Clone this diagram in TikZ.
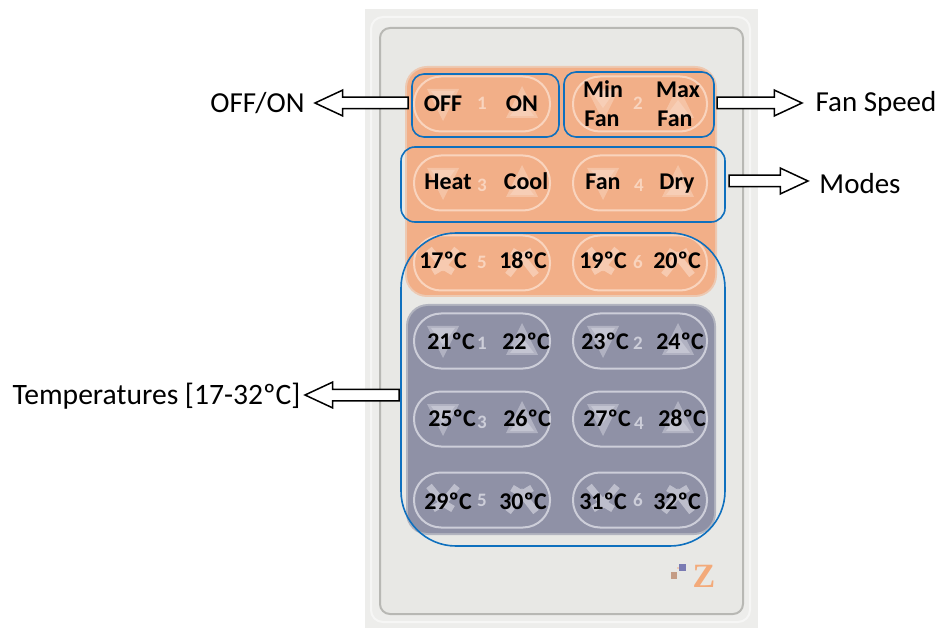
\documentclass[tikz,border=0pt]{standalone}
\usepackage{fontspec}
\setmainfont{Carlito}
\newfontfamily\zfont{Liberation Serif}
\usetikzlibrary{shapes.arrows}
\definecolor{panel}{HTML}{E8E8E5}
\definecolor{panelouter}{HTML}{EDEDEB}
\definecolor{panelline}{HTML}{B8B8B4}
\definecolor{orbg}{HTML}{F2AF88}
\definecolor{orpale}{HTML}{F9D4BE}
\definecolor{grbg}{HTML}{8F91A6}
\definecolor{grpale}{HTML}{CDCED9}
\definecolor{bluebox}{HTML}{0F70BE}
\tikzset{
  px/.style={x=1pt,y=-1pt},
  keytext/.style={font=\fontsize{24}{26}\selectfont\bfseries,text=black,inner sep=0pt,anchor=base},
  calltext/.style={font=\fontsize{29}{31}\selectfont,text=black,inner sep=0pt,anchor=base},
  digit/.style={font=\fontsize{19}{21}\selectfont\bfseries,inner sep=0pt},
  bluerect/.style={draw=bluebox,line width=1.6pt,fill=none,inner sep=0pt},
  pillbox/.style={rounded corners=27pt,line width=2pt},
  blockarrow/.style={single arrow,draw=black,fill=white,line width=1.5pt,inner xsep=0pt,inner ysep=5pt,
    minimum width=21pt,single arrow head indent=0pt,single arrow tip angle=50,outer sep=0pt,anchor=tip},
}
\newcommand{\pillpair}[2]{%
  \draw[pillbox,draw=#2] (414,#1-27.5) rectangle (550,#1+27.5);
  \draw[pillbox,draw=#2] (573,#1-27.5) rectangle (707,#1+27.5);
}
\newcommand{\downtri}[3]{%
  \fill[#3,opacity=.55] (#1-16,#2-15) -- (#1+16,#2-15) -- (#1,#2+17) -- cycle;
  \fill[#3,opacity=.7] (#1-12,#2-13) -- (#1+12,#2-13) -- (#1,#2+4) -- cycle;}
\newcommand{\uptri}[3]{%
  \fill[#3,opacity=.55] (#1-16,#2+14) -- (#1+16,#2+14) -- (#1,#2-18) -- cycle;
  \fill[#3,opacity=.7] (#1-12,#2+12) -- (#1+12,#2+12) -- (#1,#2-4) -- cycle;}
\newcommand{\downchev}[3]{\draw[#3,opacity=.75,line width=7pt]
  (#1-14,#2-14) -- (#1,#2+3) -- (#1+14,#2-14) (#1-10,#2+9) -- (#1,#2+3) -- (#1+10,#2+9);}
\newcommand{\upchev}[3]{\draw[#3,opacity=.75,line width=7pt]
  (#1-14,#2+12) -- (#1,#2-6) -- (#1+14,#2+12) (#1-10,#2-12) -- (#1,#2-6) -- (#1+10,#2-12);}
\begin{document}
\begin{tikzpicture}[px]
\useasboundingbox (0,0) rectangle (940,628);
% panel
\fill[panelouter] (365,9) rectangle (758,628);
\draw[white,line width=2pt,opacity=.5,rounded corners=12pt] (371,17) rectangle (750,622);
\fill[panel,rounded corners=10pt] (380,28) rectangle (743,614);
\draw[panelline,line width=2pt,rounded corners=10pt] (380,28) rectangle (743,614);
% key fields
\fill[orbg!55!panel,rounded corners=22pt] (405,66) rectangle (717,297);
\fill[orbg,rounded corners=20pt] (407,68) rectangle (715,295);
\fill[grbg!60!panel,rounded corners=22pt] (406,304) rectangle (716,535);
\fill[grbg,rounded corners=20pt] (408,306) rectangle (714,533);
% pills
\pillpair{104}{orpale}
\pillpair{183}{orpale}
\pillpair{263}{orpale}
\pillpair{341}{grpale}
\pillpair{419}{grpale}
\pillpair{500}{grpale}
% glyphs
\foreach \y in {104,183}{
  \downtri{443}{\y}{orpale}\uptri{522}{\y}{orpale}
  \downtri{603}{\y}{orpale}\uptri{678}{\y}{orpale}}
\foreach \y in {341,419}{
  \downtri{443}{\y}{grpale}\uptri{522}{\y}{grpale}
  \downtri{603}{\y}{grpale}\uptri{678}{\y}{grpale}}
\downchev{443}{263}{orpale}\upchev{522}{263}{orpale}
\downchev{603}{263}{orpale}\upchev{678}{263}{orpale}
\downchev{443}{500}{grpale}\upchev{522}{500}{grpale}
\downchev{603}{500}{grpale}\upchev{678}{500}{grpale}
% digits
\foreach \n/\t/\x/\y in {a/1/482/103,b/2/638/103,c/3/482/185,d/4/639/185,e/5/482/262,f/6/638/262}
  \node[digit,text=orpale] (o\n) at (\x,\y) {\t};
\foreach \n/\t/\x/\y in {a/1/482/343,b/2/638/343,c/3/482/422,d/4/639/423,e/5/482/500,f/6/638/500}
  \node[digit,text=grpale] (g\n) at (\x,\y) {\t};
% logo
\fill[grbg!85!blue] (679,564) rectangle (686,571);
\fill[orbg!60!gray] (671,572) rectangle (677,579);
\fill[orbg!50!panel] (677,567) rectangle (679,569);
\node[inner sep=0pt,text=orbg!90!orange] (logoz) at (704,576) {\zfont\fontsize{34}{36}\selectfont\bfseries Z};
% key labels
\foreach \n/\x/\y/\t in {
  k1/443/112/OFF,k2/522/112/ON,k3/603/98/Min,k4/678/98/Max,k5/602/127/Fan,k6/675/127/Fan,
  k7/448/190/Heat,k8/526/190/Cool,k9/603/190/Fan,k10/677/190/Dry,
  t17/443/269/17ºC,t18/523/269/18ºC,t19/603/269/19ºC,t20/677/269/20ºC,
  t21/451/349/21ºC,t22/526/349/22ºC,t23/605/349/23ºC,t24/680/349/24ºC,
  t25/452/426/25ºC,t26/527/426/26ºC,t27/607/426/27ºC,t28/682/426/28ºC,
  t29/448/509/29ºC,t30/523/509/30ºC,t31/603/509/31ºC,t32/677/509/32ºC}
  \node[keytext] (\n) at (\x,\y) {\t};
% blue outlines
\node[bluerect,rounded corners=12pt,minimum width=147pt,minimum height=63pt] (boxonoff) at (485.5,105.5) {};
\node[bluerect,rounded corners=12pt,minimum width=150pt,minimum height=65pt] (boxfan) at (639,104.5) {};
\node[bluerect,rounded corners=14pt,minimum width=324pt,minimum height=75pt] (boxmodes) at (563,184.5) {};
\node[bluerect,rounded corners=55pt,minimum width=324pt,minimum height=313pt] (boxtemp) at (563,389.5) {};
% callouts
\node[calltext] (lonoff) at (257.5,113) {OFF/ON};
\node[calltext] (lfan) at (876,112) {Fan Speed};
\node[calltext] (lmodes) at (860,194) {Modes};
\node[calltext,font=\fontsize{29.6}{31}\selectfont] (ltemp) at (156.5,404) {Temperatures [17-32ºC]};
\node[blockarrow,shape border rotate=180,minimum height=93pt] (aonoff) at (315,103) {};
\node[blockarrow,minimum height=85pt] (afan) at (802,103) {};
\node[blockarrow,minimum height=79pt] (amodes) at (808,181) {};
\node[blockarrow,shape border rotate=180,minimum height=94pt] (atemp) at (305,395) {};
\end{tikzpicture}
\end{document}
